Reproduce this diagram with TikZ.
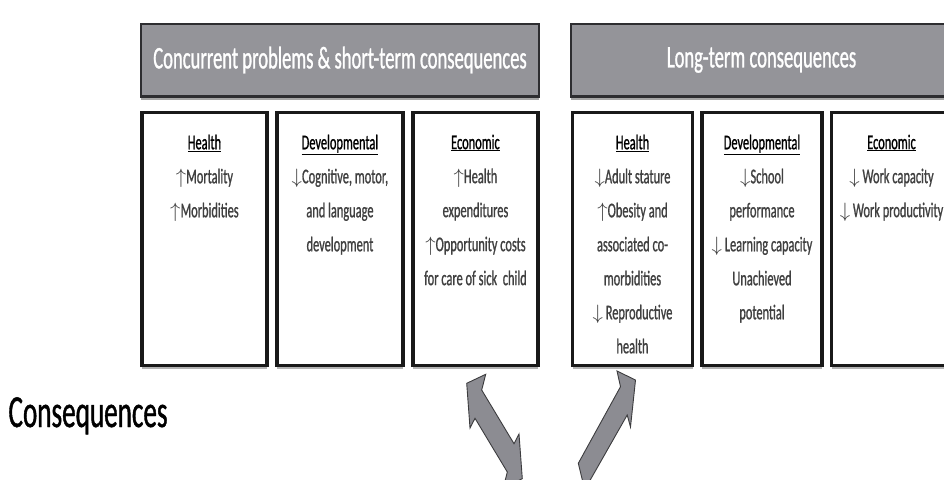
\documentclass[tikz,border=0pt]{standalone}
\usepackage{fontspec}
\setmainfont{Carlito}[FakeStretch=0.59, FakeBold=0.9]
\usetikzlibrary{positioning,shadows}

\definecolor{headgray}{RGB}{148,148,153}
\definecolor{headline}{RGB}{45,45,48}
\definecolor{arrgray}{RGB}{140,140,146}
\definecolor{arrline}{RGB}{60,60,62}
\newcommand{\upar}{$\uparrow$}
\newcommand{\dnar}{$\downarrow$}
\newcommand{\cathead}[1]{{\color{black}\underline{#1}}}

\begin{document}
\begin{tikzpicture}[
		x=1pt, y=-1pt,
		node distance=10pt,
		headbox/.style={
				draw=headline,
				line width=2.5pt,
				fill=headgray,
				outer sep=0pt,
				minimum height=72.5pt,
				text=white,
				font=\fontsize{31.5}{36}\selectfont,
				drop shadow={shadow xshift=0pt,shadow yshift=-3.5pt,opacity=0.7}
			},
		catbox/.style={
				draw=black!90,
				line width=3.6pt,
				fill=white,
				outer sep=0pt,
				minimum height=253pt,
				drop shadow={shadow xshift=0pt,shadow yshift=-3.5pt,opacity=0.6}
			},
		cattext/.style={
				align=center,
				inner sep=0pt,
				text=black!75,
				font=\fontsize{21}{34}\selectfont
			},
		blockarrow/.style={
				fill=arrgray,
				draw=arrline,
				line width=0.9pt,
				line join=miter
			}
	]

	\clip (0,0) rectangle (944,479);

	\draw[blockarrow] (466.7,383.3) -- (485.7,374.3) -- (481.7,390)
	-- (514,443.7) -- (519,434) -- (522.3,478.7) -- (503.3,487.7)
	-- (507.3,472) -- (475,418.3) -- (470,428) -- cycle;

	\draw[blockarrow] (635.5,380) -- (630.5,427) -- (627.2,415)
	-- (584.7,489.7) -- (578.3,463.3) -- (620.5,386.7) -- (617,371) -- cycle;

	\node[headbox, minimum width=398pt] (shortTerm) at (340,60)
	{Concurrent problems \& short-term consequences};
	\node[headbox, minimum width=381pt] (longTerm) at (761.5,60)
	{Long-term consequences};

	\node[catbox, minimum width=125.5pt, anchor=north west] (sHealth) at (141.7,112.5) {};
	\node[catbox, minimum width=125.5pt, right=of sHealth] (sDevel) {};
	\node[catbox, minimum width=125.5pt, right=of sDevel] (sEcon) {};

	\node[catbox, minimum width=120pt, anchor=north west] (lHealth) at (572.5,112.5) {};
	\node[catbox, minimum width=120pt, right=9.5pt of lHealth] (lDevel) {};
	\node[catbox, minimum width=120pt, right=9.5pt of lDevel] (lEcon) {};

	\node[cattext, below=22pt of sHealth.north] (sHealthTxt)
	{\cathead{Health}\\\upar Mortality\\\upar Morbidities};
	\node[cattext, below=22pt of sDevel.north] (sDevelTxt)
	{\cathead{Developmental}\\\dnar Cognitive, motor,\\and language\\development};
	\node[cattext, below=22pt of sEcon.north] (sEconTxt)
	{\cathead{Economic}\\\upar Health\\expenditures\\\upar Opportunity costs\\for care of sick\ \ child};

	\node[cattext, below=22pt of lHealth.north] (lHealthTxt)
	{\cathead{Health}\\\dnar Adult stature\\\upar Obesity and\\associated co-\\morbidities\\\dnar{} Reproductive\\health};
	\node[cattext, below=22pt of lDevel.north] (lDevelTxt)
	{\cathead{Developmental}\\\dnar School\\performance\\\dnar{} Learning capacity\\Unachieved\\potential};
	\node[cattext, below=22pt of lEcon.north] (lEconTxt)
	{\cathead{Economic}\\\dnar{} Work capacity\\\dnar{} Work productivity};

	\node[anchor=base west, font=\fontsize{46}{50}\selectfont] (conseq) at (5,427) {Consequences};

\end{tikzpicture}
\end{document}
